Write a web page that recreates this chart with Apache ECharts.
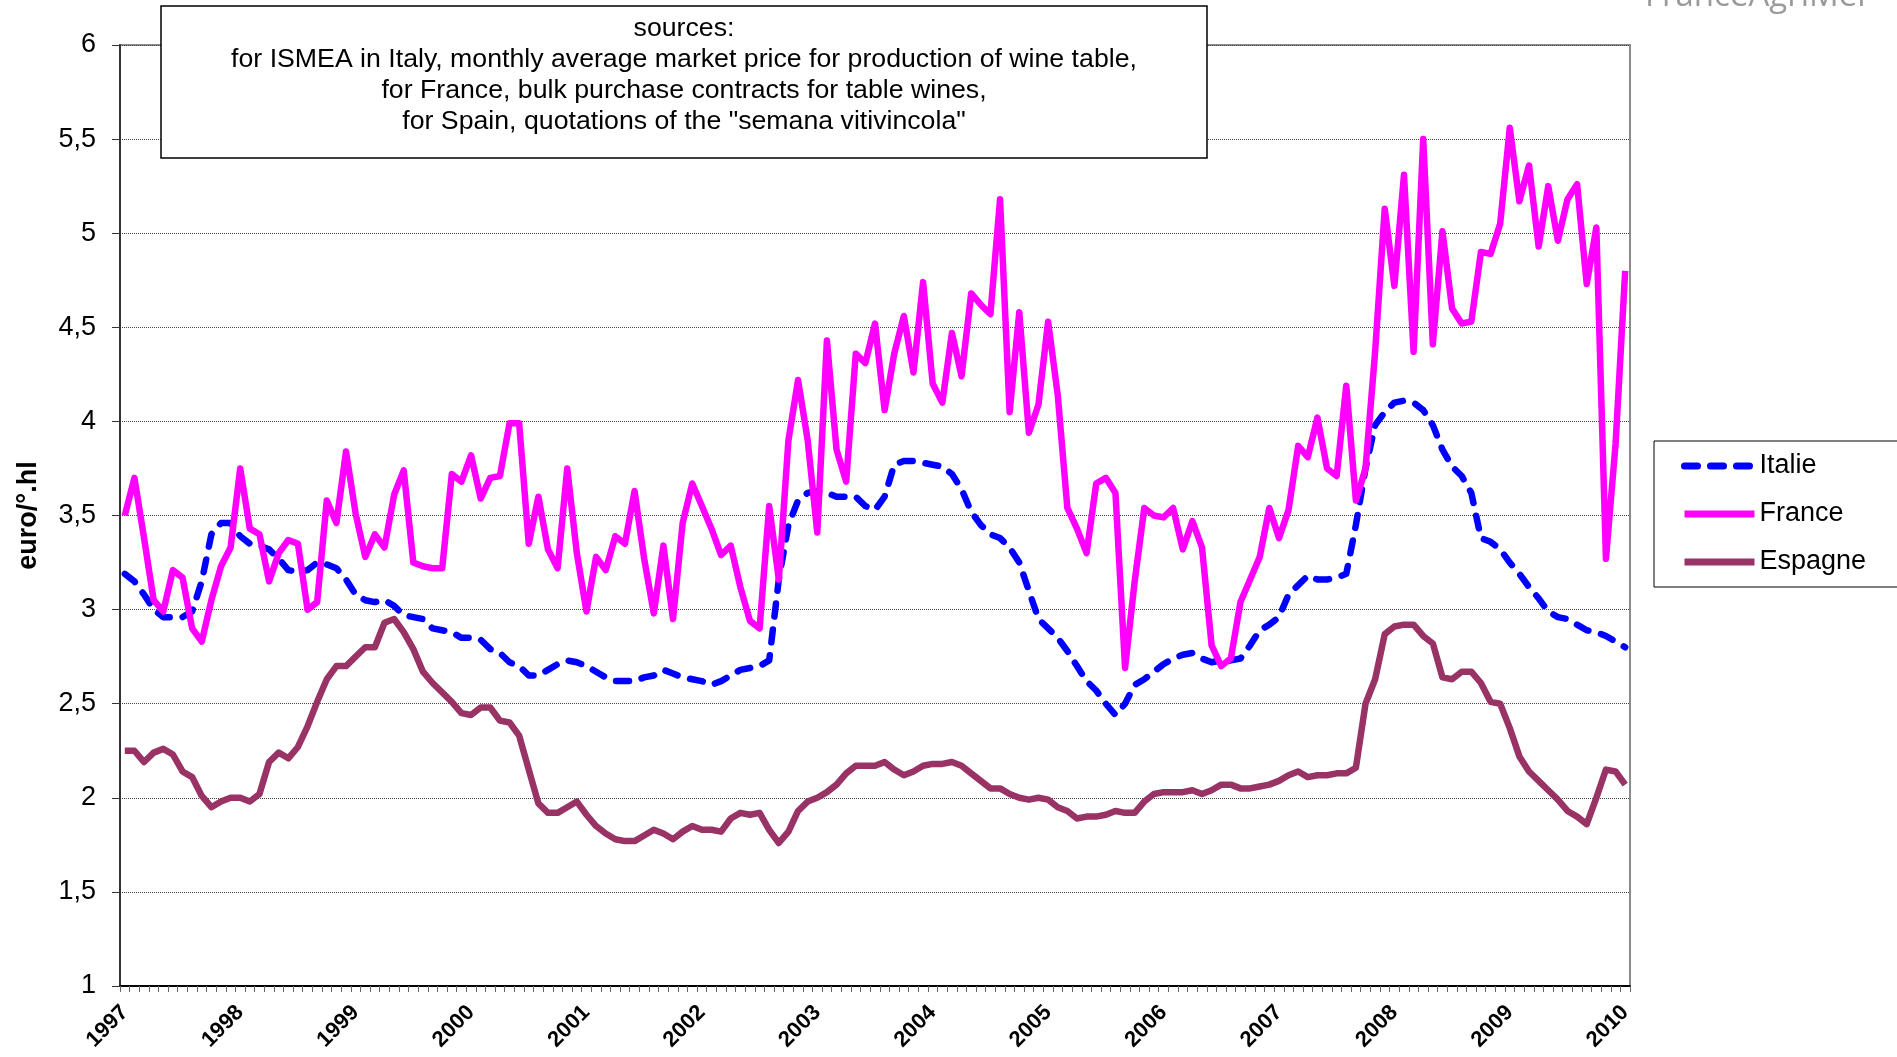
<!DOCTYPE html>
<html>
<head>
<meta charset="utf-8">
<script src="https://cdn.jsdelivr.net/npm/echarts@6/dist/echarts.min.js"></script>
<style>
html,body{margin:0;padding:0;background:#fff;}
#chart{width:1897px;height:1057px;}
</style>
</head>
<body>
<div id="chart"></div>
<script>
var yearLabels = ['1997','1998','1999','2000','2001','2002','2003','2004','2005','2006','2007','2008','2009','2010'];

var italie = [
3.19,3.15,3.08,3.00,2.96,2.96,2.96,2.99,3.15,3.40,3.46,3.46,
3.39,3.35,3.34,3.32,3.27,3.21,3.20,3.21,3.25,3.24,3.22,3.16,
3.08,3.05,3.04,3.05,3.02,2.97,2.96,2.95,2.90,2.89,2.88,2.85,
2.85,2.84,2.79,2.77,2.72,2.70,2.65,2.65,2.68,2.71,2.73,2.72,
2.70,2.67,2.64,2.62,2.62,2.62,2.64,2.65,2.68,2.66,2.64,2.63,
2.62,2.60,2.62,2.65,2.68,2.69,2.70,2.73,3.16,3.45,3.58,3.62,
3.63,3.62,3.60,3.60,3.60,3.55,3.53,3.60,3.77,3.79,3.79,3.78,
3.77,3.76,3.72,3.64,3.52,3.45,3.40,3.38,3.33,3.25,3.10,2.95,
2.90,2.85,2.78,2.70,2.62,2.57,2.50,2.44,2.50,2.60,2.63,2.67,
2.71,2.74,2.76,2.77,2.74,2.72,2.73,2.73,2.74,2.81,2.89,2.92,
2.96,3.08,3.13,3.18,3.16,3.16,3.17,3.19,3.45,3.75,3.98,4.05,
4.10,4.11,4.10,4.06,3.98,3.85,3.76,3.71,3.62,3.38,3.36,3.32,
3.25,3.19,3.12,3.06,2.99,2.96,2.95,2.92,2.89,2.88,2.86,2.83,
2.80];

var france = [
3.50,3.70,3.38,3.05,2.99,3.21,3.17,2.90,2.83,3.05,3.23,3.33,
3.75,3.43,3.40,3.15,3.30,3.37,3.35,3.00,3.04,3.58,3.46,3.84,
3.51,3.28,3.40,3.33,3.61,3.74,3.25,3.23,3.22,3.22,3.72,3.68,
3.82,3.59,3.70,3.71,3.99,3.99,3.35,3.60,3.32,3.22,3.75,3.30,
2.99,3.28,3.21,3.39,3.35,3.63,3.27,2.98,3.34,2.95,3.46,3.67,
3.55,3.43,3.29,3.34,3.12,2.94,2.90,3.55,3.16,3.90,4.22,3.90,
3.41,4.43,3.85,3.68,4.36,4.31,4.52,4.06,4.36,4.56,4.26,4.74,
4.20,4.10,4.47,4.24,4.68,4.62,4.57,5.18,4.05,4.58,3.94,4.09,
4.53,4.14,3.54,3.43,3.30,3.67,3.70,3.62,2.69,3.15,3.54,3.50,
3.49,3.54,3.32,3.47,3.33,2.81,2.70,2.74,3.04,3.16,3.28,3.54,
3.38,3.53,3.87,3.81,4.02,3.75,3.71,4.19,3.58,3.75,4.37,5.13,
4.72,5.31,4.37,5.50,4.41,5.01,4.60,4.52,4.53,4.90,4.89,5.05,
5.56,5.17,5.36,4.93,5.25,4.96,5.18,5.26,4.73,5.03,3.27,3.88,
4.80];

var espagne = [
2.25,2.25,2.19,2.24,2.26,2.23,2.14,2.11,2.01,1.95,1.98,2.00,
2.00,1.98,2.02,2.19,2.24,2.21,2.27,2.38,2.51,2.63,2.70,2.70,
2.75,2.80,2.80,2.93,2.95,2.88,2.79,2.67,2.61,2.56,2.51,2.45,
2.44,2.48,2.48,2.41,2.40,2.33,2.15,1.97,1.92,1.92,1.95,1.98,
1.91,1.85,1.81,1.78,1.77,1.77,1.80,1.83,1.81,1.78,1.82,1.85,
1.83,1.83,1.82,1.89,1.92,1.91,1.92,1.83,1.76,1.82,1.93,1.98,
2.00,2.03,2.07,2.13,2.17,2.17,2.17,2.19,2.15,2.12,2.14,2.17,
2.18,2.18,2.19,2.17,2.13,2.09,2.05,2.05,2.02,2.00,1.99,2.00,
1.99,1.95,1.93,1.89,1.90,1.90,1.91,1.93,1.92,1.92,1.98,2.02,
2.03,2.03,2.03,2.04,2.02,2.04,2.07,2.07,2.05,2.05,2.06,2.07,
2.09,2.12,2.14,2.11,2.12,2.12,2.13,2.13,2.16,2.50,2.63,2.87,
2.91,2.92,2.92,2.86,2.82,2.64,2.63,2.67,2.67,2.61,2.51,2.50,
2.37,2.22,2.14,2.09,2.04,1.99,1.93,1.90,1.86,2.00,2.15,2.14,
2.07];

var seriesNames = ['Italie','France','Espagne'];
var sourceLines = [
  'sources:',
  'for ISMEA in Italy, monthly average market price for production of wine table,',
  'for France, bulk purchase contracts for table wines,',
  'for Spain, quotations of the "semana vitivincola"'
];

var categories = [];
for (var i = 0; i < france.length; i++) {
  categories.push(yearLabels[Math.floor(i / 12)] + '-' + ((i % 12) + 1));
}

var FONT = '"Liberation Sans", Arial, sans-serif';
var chart = echarts.init(document.getElementById('chart'), null, {renderer: 'canvas'});

chart.setOption({
  animation: false,
  backgroundColor: '#ffffff',
  grid: {left: 120, right: 267, top: 45, bottom: 71, show: true,
         borderColor: '#8c8c8c', borderWidth: 2, backgroundColor: 'transparent'},
  xAxis: {
    type: 'category', data: categories, boundaryGap: true,
    axisLine: {lineStyle: {color: '#000', width: 2}},
    axisTick: {show: true, interval: 0, length: 6, lineStyle: {color: '#666', width: 1}},
    axisLabel: {
      interval: 0, rotate: 45, margin: 23,
      formatter: function (v, idx) { return idx % 12 === 0 ? yearLabels[idx / 12] : ''; },
      fontFamily: FONT, fontWeight: 'bold', fontSize: 22, color: '#000'
    },
    splitLine: {show: false}
  },
  yAxis: {
    type: 'value', min: 1, max: 6, interval: 0.5,
    name: 'euro/°.hl', nameLocation: 'middle', nameRotate: 90, nameGap: 78,
    nameTextStyle: {fontFamily: FONT, fontWeight: 'bold', fontSize: 27, color: '#000'},
    axisLine: {show: true, lineStyle: {color: '#333', width: 2}},
    axisTick: {show: true, length: 8, lineStyle: {color: '#333', width: 1}},
    axisLabel: {
      margin: 24, fontFamily: FONT, fontSize: 27, color: '#000',
      formatter: function (v) { return String(v).replace('.', ','); }
    },
    splitLine: {lineStyle: {type: 'dotted', color: '#444', width: 1}}
  },
  legend: {
    orient: 'vertical', left: 1654, top: 441,
    padding: [10, 120, 10, 27],
    borderColor: '#000', borderWidth: 1, backgroundColor: '#fff',
    itemWidth: 70, itemHeight: 4, itemGap: 18,
    itemStyle: {opacity: 0},
    lineStyle: {width: 7},
    textStyle: {fontFamily: FONT, fontSize: 27, color: '#000', lineHeight: 30},
    data: seriesNames
  },
  series: [
    {name: seriesNames[0], type: 'line', data: italie, symbol: 'none',
     lineStyle: {color: '#0000FF', width: 6.5, type: [13, 13], cap: 'round', join: 'round'},
     itemStyle: {color: '#0000FF'}},
    {name: seriesNames[1], type: 'line', data: france, symbol: 'none',
     lineStyle: {color: '#FF00FF', width: 6.5, join: 'round'},
     itemStyle: {color: '#FF00FF'}},
    {name: seriesNames[2], type: 'line', data: espagne, symbol: 'none',
     lineStyle: {color: '#993366', width: 6.5, join: 'round'},
     itemStyle: {color: '#993366'}}
  ],
  graphic: [
    {type: 'rect', z: 100, shape: {x: 161, y: 6, width: 1046, height: 152},
     style: {fill: '#fff', stroke: '#000', lineWidth: 1.5}},
    {type: 'text', z: 101, x: 684, y: 13.5,
     style: {text: sourceLines.join('\n'), font: '26.7px ' + FONT, fill: '#000',
             align: 'center', verticalAlign: 'top', lineHeight: 31}},
    {type: 'text', z: 101, x: 1645, y: 13,
     style: {text: 'FranceAgriMer', font: '33px "Open Sans"', fill: '#9a9a9a',
             align: 'left', verticalAlign: 'bottom'}}
  ]
});
</script>
</body>
</html>
